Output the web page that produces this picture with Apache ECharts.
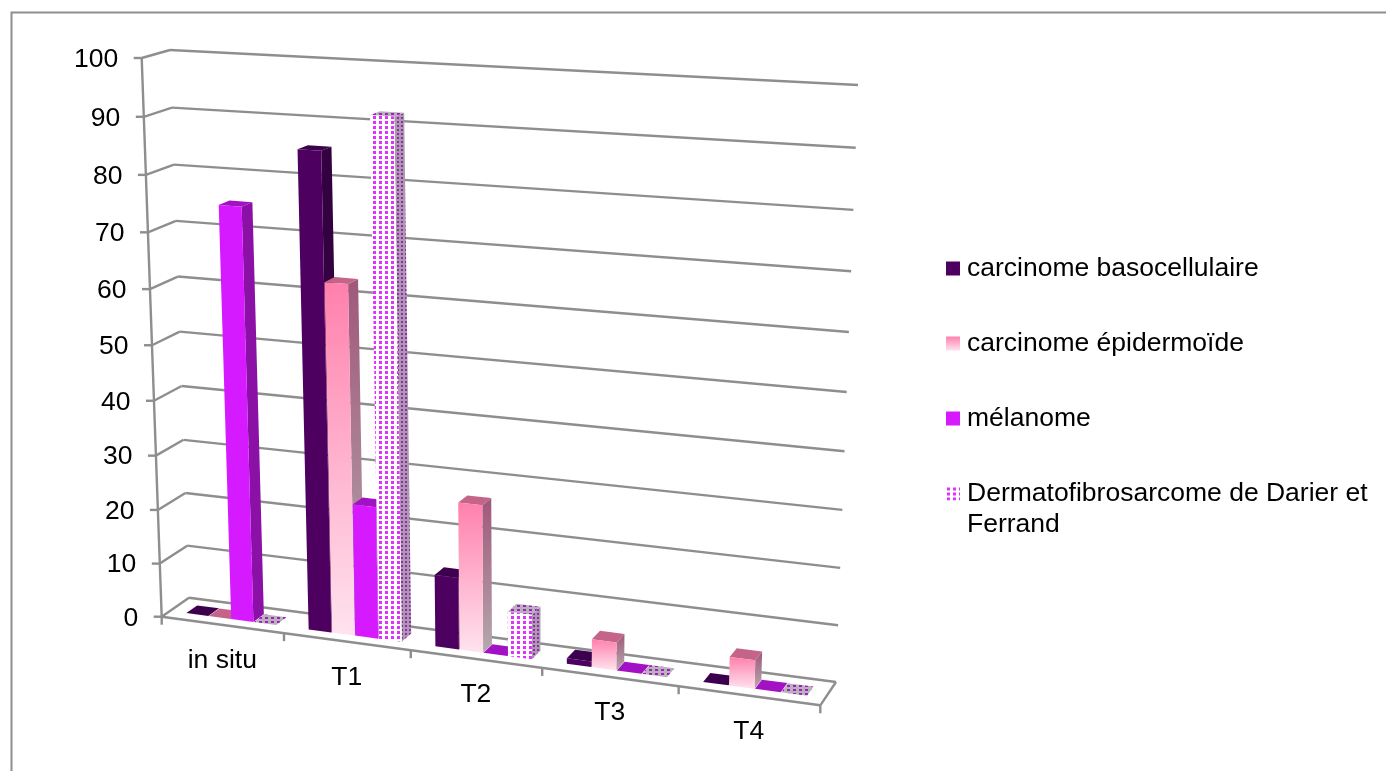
<!DOCTYPE html>
<html>
<head>
<meta charset="UTF-8">
<title>Tumeurs par stade</title>
<script src="https://cdn.jsdelivr.net/npm/echarts@6/dist/echarts.min.js"></script>
<style>html,body{margin:0;padding:0;background:#fff}</style>
</head>
<body>
<div id="main" style="width:1386px;height:771px;"></div>
<script type="text/javascript">
var categories = ['in situ', 'T1', 'T2', 'T3', 'T4'];
var yTicks = [0, 10, 20, 30, 40, 50, 60, 70, 80, 90, 100];
var basocellulaire = [0, 85.5, 13, 1, 0];
var epidermoide = [0, 63, 26.5, 5, 5];
var melanome = [75, 24, 0, 0, 0];
var darier = [0, 92, 8, 0, 0];
var names = ['carcinome basocellulaire', 'carcinome épidermoïde', 'mélanome', 'Dermatofibrosarcome de Darier et Ferrand'];

var fontName = '"Liberation Sans", Arial, sans-serif';
var labelFont = '26.5px ' + fontName;
var lineColor = '#8e8e8e';

// corners of the drawn box: floor and top, front edge then back edge
var floorQuad = [[161.7, 616.7], [820.3, 705.3], [836, 682], [189, 597.7]];
var topQuad = [[141.7, 58], [842, 95], [858, 85], [170, 50]];
var heightBend = 0.945, widthBend = 1.025;
var barFront = 0.3, barBack = 0.7, gapUnits = 0.75, bandUnits = 5.5, barStep = 1.02;

function homography(q) {
    var dx1 = q[1][0] - q[2][0], dx2 = q[3][0] - q[2][0], sx = q[0][0] - q[1][0] + q[2][0] - q[3][0];
    var dy1 = q[1][1] - q[2][1], dy2 = q[3][1] - q[2][1], sy = q[0][1] - q[1][1] + q[2][1] - q[3][1];
    var den = dx1 * dy2 - dx2 * dy1;
    var g = (sx * dy2 - dx2 * sy) / den, h = (dx1 * sy - sx * dy1) / den;
    var a = q[1][0] - q[0][0] + g * q[1][0], b = q[3][0] - q[0][0] + h * q[3][0];
    var d = q[1][1] - q[0][1] + g * q[1][1], e = q[3][1] - q[0][1] + h * q[3][1];
    return function (u, w) {
        var k = g * u + h * w + 1;
        return [(a * u + b * w + q[0][0]) / k, (d * u + e * w + q[0][1]) / k];
    };
}
var floorAt = homography(floorQuad), topAt = homography(topQuad);

function bend(t, r) {
    return t * r / (1 + t * (r - 1));
}
// u along the categories, v up the value axis, w into the depth
function warp(u, v, w) {
    var ub = bend(u, widthBend);
    var p0 = floorAt(ub, w), p1 = topAt(ub, w);
    var s = bend(v, heightBend);
    return [p0[0] + (p1[0] - p0[0]) * s, p0[1] + (p1[1] - p0[1]) * s];
}
// grid pixel -> unit coordinates, so everything still goes through the axes
function unitOf(params, api, cat, val) {
    var sys = params.coordSys, c = api.coord([cat, val]);
    return [(c[0] - sys.x) / sys.width, 1 - (c[1] - sys.y) / sys.height];
}

function dotted(bg, dot, cw, ch, dw, dh) {
    var c = document.createElement('canvas');
    c.width = cw; c.height = ch;
    var ctx = c.getContext('2d');
    ctx.fillStyle = bg; ctx.fillRect(0, 0, cw, ch);
    ctx.fillStyle = dot; ctx.fillRect(1, 1, dw, dh);
    return {image: c, repeat: 'repeat'};
}
function grad(a, b) {
    return {type: 'linear', x: 0, y: 0, x2: 0, y2: 1, colorStops: [{offset: 0, color: a}, {offset: 1, color: b}]};
}

var faces = [
    {front: '#4d0060', side: '#330040', top: '#3d004e'},
    {front: grad('#ff80ac', '#ffe3ee'), side: grad('#a0587a', '#b5a8ae'), top: '#c46488'},
    {front: '#d61aff', side: '#8a10a6', top: '#a212c4'},
    {front: dotted('#ffffff', '#e030ff', 6, 5, 3, 3), side: dotted('#a89ca8', '#a020c4', 4, 4, 2, 2), top: dotted('#bab2ba', '#a020c4', 6, 4, 3, 2)}
];

function barItem(j) {
    return function (params, api) {
        var cat = api.value(0), val = api.value(1);
        var base = unitOf(params, api, cat, 0), head = unitOf(params, api, cat, val);
        var band = api.size([1, 0])[0] / params.coordSys.width;
        var u0 = base[0] + ((gapUnits + j * barStep) / bandUnits - 0.5) * band;
        var u1 = u0 + band / bandUnits;
        var v0 = base[1], v1 = head[1];
        var f = faces[j], kids = [];
        function poly(pts, fill) {
            kids.push({type: 'polygon', shape: {points: pts}, style: {fill: fill}});
        }
        if (val > 0) {
            poly([warp(u1, v0, barFront), warp(u1, v0, barBack), warp(u1, v1, barBack), warp(u1, v1, barFront)], f.side);
        }
        poly([warp(u0, v1, barFront), warp(u1, v1, barFront), warp(u1, v1, barBack), warp(u0, v1, barBack)], f.top);
        if (val > 0) {
            poly([warp(u0, v0, barFront), warp(u1, v0, barFront), warp(u1, v1, barFront), warp(u0, v1, barFront)], f.front);
        }
        return {type: 'group', children: kids};
    };
}

function seg(a, b) {
    return {type: 'line', shape: {x1: a[0], y1: a[1], x2: b[0], y2: b[1]}, style: {stroke: lineColor, lineWidth: 2.4}};
}
function valueFrame(params, api) {
    var val = api.value(0);
    var v = unitOf(params, api, 0, val)[1];
    var a = warp(0, v, 0), b = warp(0, v, 1), c = warp(1, v, 1);
    return {type: 'group', children: [
        seg([a[0] - 8, a[1]], a), seg(a, b), seg(b, c),
        {type: 'text', style: {x: a[0] - 23.5, y: a[1] + 1.5, text: String(val), align: 'right', verticalAlign: 'middle', font: labelFont, fill: '#000'}}
    ]};
}
function categoryFrame(params, api) {
    var cat = api.value(0);
    var mid = unitOf(params, api, cat, 0)[0];
    var band = api.size([1, 0])[0] / params.coordSys.width;
    var p = warp(mid + band / 2, 0, 0), m = warp(mid, 0, 0);
    return {type: 'group', children: [
        seg(p, [p[0], p[1] + 8]),
        {type: 'text', style: {x: m[0], y: m[1] + 36, text: categories[cat], align: 'center', verticalAlign: 'middle', font: labelFont, fill: '#000'}}
    ]};
}
function boxFrame(params, api) {
    var a = warp(0, 0, 0), b = warp(1, 0, 0), c = warp(1, 0, 1);
    var t = warp(0, 1, 0);
    return {type: 'group', children: [seg(t, a), seg(a, [a[0], a[1] + 8]), seg(a, b), seg(b, c)]};
}

function barSeries(name, values, j, legendColor) {
    return {
        name: name,
        type: 'custom',
        renderItem: barItem(j),
        itemStyle: {color: legendColor},
        encode: {x: 0, y: 1},
        z: 5 + j,
        data: values.map(function (val, i) { return [i, val]; })
    };
}

var myChart = echarts.init(document.getElementById('main'), null, {renderer: 'canvas'});
myChart.setOption({
    animation: false,
    backgroundColor: '#ffffff',
    grid: {left: 160, top: 60, width: 660, height: 556},
    xAxis: {type: 'category', data: categories, show: false},
    yAxis: {type: 'value', min: 0, max: 100, interval: 10, show: false},
    legend: {
        data: names,
        orient: 'vertical',
        left: 946,
        top: 253.5,
        padding: 0,
        itemWidth: 14,
        itemHeight: 14,
        itemGap: 45,
        icon: 'rect',
        selectedMode: false,
        textStyle: {fontFamily: fontName, fontSize: 26.5, color: '#000', lineHeight: 30, padding: [0, 0, 0, 2]},
        formatter: function (name) { return name.replace(' Ferrand', ''); }
    },
    graphic: [
        {type: 'rect', silent: true, shape: {x: 11.5, y: 12.5, width: 1500, height: 900}, style: {fill: 'none', stroke: lineColor, lineWidth: 2}},
        {type: 'text', left: 967, top: 511, style: {text: 'Ferrand', font: labelFont, fill: '#000'}}
    ],
    series: [
        {type: 'custom', renderItem: valueFrame, z: 2, silent: true, encode: {y: 0}, data: yTicks.map(function (t) { return [t]; })},
        {type: 'custom', renderItem: categoryFrame, z: 2, silent: true, encode: {x: 0}, data: categories.map(function (c, i) { return [i]; })},
        {type: 'custom', renderItem: boxFrame, z: 2, silent: true, data: [[0]]},
        barSeries(names[0], basocellulaire, 0, faces[0].front),
        barSeries(names[1], epidermoide, 1, faces[1].front),
        barSeries(names[2], melanome, 2, faces[2].front),
        barSeries(names[3], darier, 3, faces[3].front)
    ]
});
</script>
</body>
</html>
